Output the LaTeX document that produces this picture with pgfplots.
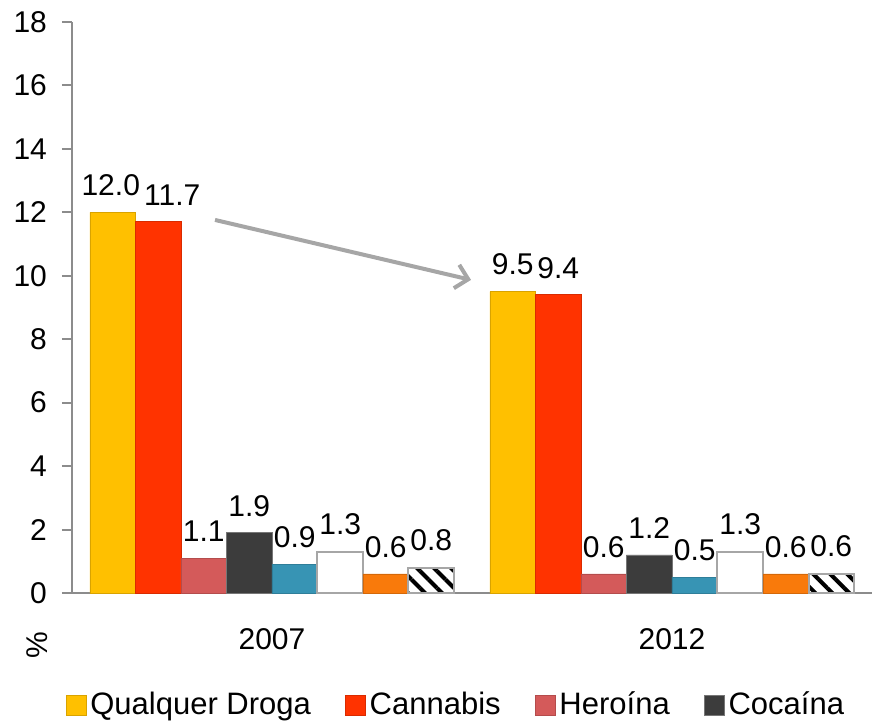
\documentclass[border=0pt]{standalone}
\usepackage{pgfplots}
\usepackage{pgfplotstable}
\pgfplotsset{compat=1.18}
\usepackage{fontspec}
\setmainfont{Liberation Sans}
\usetikzlibrary{patterns.meta,arrows.meta}

\definecolor{cqd}{HTML}{FFC000}
\definecolor{ccan}{HTML}{FF3300}
\definecolor{cher}{HTML}{D45A5A}
\definecolor{ccoc}{HTML}{3C3C3C}
\definecolor{cblue}{HTML}{3794B4}
\definecolor{corange}{HTML}{F97A0B}
\definecolor{axgray}{HTML}{8C8C8C}
\definecolor{arrgray}{HTML}{A6A6A6}

% x: 0 = 2007, 1 = 2012; dx = label nudge in pt
\pgfplotstableread{
x y dx
0 12.0 -1
1 9.5 0
}\qualquer
\pgfplotstableread{
x y dx
0 11.7 7
1 9.4 0
}\cannabis

\begin{document}
\begin{tikzpicture}[font=\fontsize{15}{18}\selectfont]
\useasboundingbox (-36pt,-67.5pt) rectangle (401.5pt,296.5pt);
\begin{axis}[
  scale only axis, width=400pt, height=285.5pt,
  ybar=0pt, bar width=22.75pt,
  xmin=-0.5, xmax=1.5, ymin=0, ymax=18,
  xtick={0,1}, xticklabels={2007,2012},
  ytick={0,2,...,18},
  axis x line*=bottom, axis y line*=left,
  axis line style={draw=axgray, line width=1pt},
  ytick style={draw=axgray, line width=1pt},
  xtick style={draw=none},
  tick align=outside, major tick length=5pt,
  /pgf/number format/assume math mode=true,
  yticklabel style={xshift=-4pt},
  xticklabel style={yshift=-9pt},
  clip=false,
  nodes near coords={\pgfmathprintnumber[fixed,fixed zerofill,precision=1]{\pgfplotspointmeta}},
  every node near coord/.append style={inner sep=0pt, yshift=8pt, text=black},
  legend style={at={(0.481,-0.196)}, anchor=center, draw=none, fill=none,
    legend columns=4, font=\fontsize{15.5}{18}\selectfont,
    /tikz/every even column/.append style={column sep=15pt}},
  legend image code/.code={\draw[#1] (0pt,-5pt) rectangle (10pt,5pt);},
]
\addplot[fill=cqd, draw=cqd!85!black,
  visualization depends on={\thisrow{dx} \as \dx},
  every node near coord/.append style={xshift=\dx pt}]
  table[x=x, y=y] {\qualquer};
\addplot[fill=ccan, draw=ccan!85!black,
  visualization depends on={\thisrow{dx} \as \dx},
  every node near coord/.append style={xshift=\dx pt}]
  table[x=x, y=y] {\cannabis};
\addplot[fill=cher, draw=cher!85!black] coordinates {(0,1.1) (1,0.6)};
\addplot[fill=ccoc, draw=ccoc!70!white] coordinates {(0,1.9) (1,1.2)};
\addplot[fill=cblue, draw=cblue!85!black] coordinates {(0,0.9) (1,0.5)};
\addplot[fill=white, draw=arrgray, line width=1pt] coordinates {(0,1.3) (1,1.3)};
\addplot[fill=corange, draw=corange!85!black] coordinates {(0,0.6) (1,0.6)};
\addplot[pattern={Lines[angle=-45, distance=6pt, line width=2pt]}, pattern color=black, draw=arrgray, line width=1pt] coordinates {(0,0.8) (1,0.6)};
\legend{Qualquer Droga, Cannabis, Heroína, Cocaína}
\draw[color=arrgray, line width=2pt, -{Straight Barb[length=6pt,width=12pt]}]
  (axis cs:-0.1425,11.76) -- (axis cs:0.4975,9.87);
\end{axis}
\node[rotate=90] at (-17.5pt,-26pt) {\%};
\end{tikzpicture}
\end{document}
